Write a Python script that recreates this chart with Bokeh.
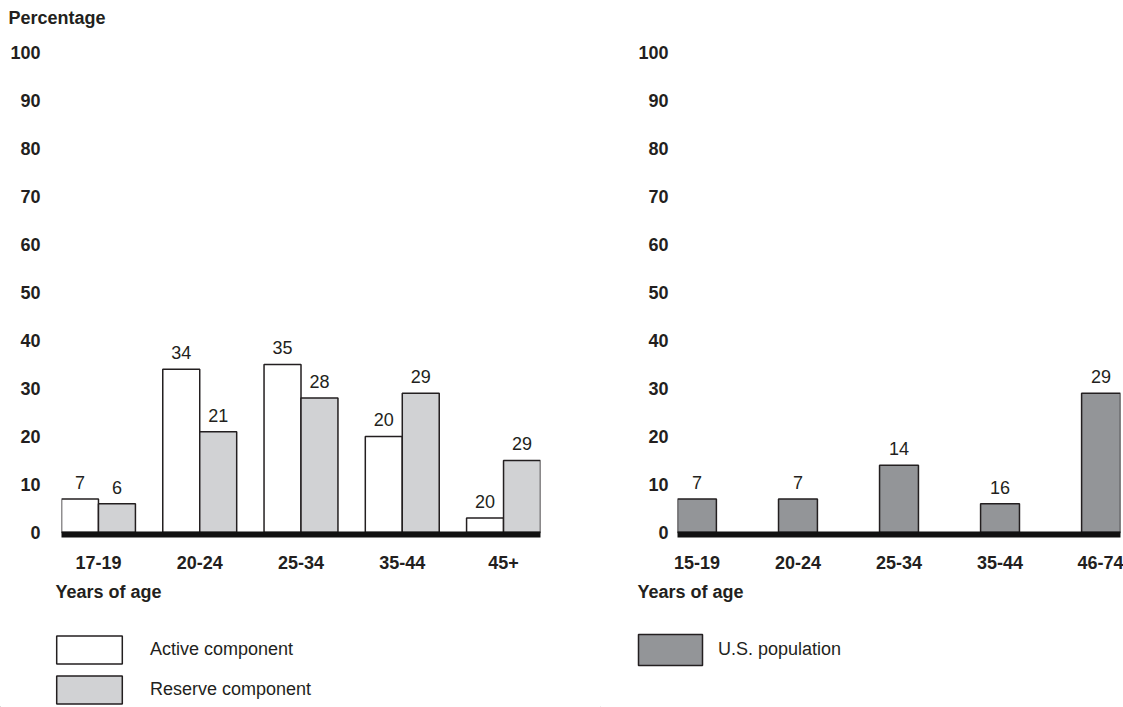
from bokeh.plotting import figure
from bokeh.models import FixedTicker, Title, Legend, LegendItem, ColumnDataSource, Range1d, Label
from bokeh.layouts import row, column
from bokeh.transform import dodge
from bokeh.core.properties import value
from bokeh.embed import file_html
from bokeh.resources import INLINE

# ---- data ----
left_cats = ["17-19", "20-24", "25-34", "35-44", "45+"]
active_vals = [7, 34, 35, 20, 3]
reserve_vals = [6, 21, 28, 29, 15]
active_labels = ["7", "34", "35", "20", "20"]
reserve_labels = ["6", "21", "28", "29", "29"]

right_cats = ["15-19", "20-24", "25-34", "35-44", "46-74"]
us_vals = [7, 7, 14, 6, 29]
us_labels = ["7", "7", "14", "16", "29"]

y_ticks = list(range(0, 101, 10))

FONT = "Liberation Sans"
INK = "#231f20"
ACTIVE = "#ffffff"
RESERVE = "#d1d2d4"
USPOP = "#939598"

HEADER_H = 30
W1, W2 = 600, 523


def blank_fig(width, height):
    p = figure(width=width, height=height, output_backend="svg", toolbar_location=None,
               x_axis_type=None, y_axis_type=None, min_border=0,
               x_range=Range1d(0, 1), y_range=Range1d(0, 1))
    p.outline_line_color = None
    p.grid.visible = False
    p.background_fill_color = "white"
    p.border_fill_color = "white"
    return p


def base_fig(frame_w, border_left, border_right, x_start, x_end, cats, standoff):
    p = figure(frame_width=frame_w, frame_height=482, output_backend="svg", toolbar_location=None,
               x_range=Range1d(x_start, x_end), y_range=Range1d(-0.42, 100),
               min_border_left=border_left, min_border_right=border_right,
               min_border_top=52 - HEADER_H, min_border_bottom=88)
    p.outline_line_color = None
    p.grid.visible = False
    p.background_fill_color = "white"
    p.border_fill_color = "white"
    # y axis
    ya = p.yaxis[0]
    ya.ticker = FixedTicker(ticks=y_ticks)
    ya.axis_line_color = None
    ya.major_tick_line_color = None
    ya.minor_tick_line_color = None
    ya.major_tick_out = 0
    ya.major_label_standoff = standoff
    ya.major_label_text_font = FONT
    ya.major_label_text_font_size = "18px"
    ya.major_label_text_font_style = "bold"
    ya.major_label_text_color = INK
    # x axis (thick baseline)
    xa = p.xaxis[0]
    xa.ticker = FixedTicker(ticks=list(range(len(cats))))
    xa.major_label_overrides = {i: c for i, c in enumerate(cats)}
    xa.axis_line_color = "#111111"
    xa.axis_line_width = 6
    xa.major_tick_line_color = None
    xa.minor_tick_line_color = None
    xa.major_tick_out = 0
    xa.major_tick_in = 0
    xa.major_label_standoff = 21
    xa.major_label_text_font = FONT
    xa.major_label_text_font_size = "18px"
    xa.major_label_text_font_style = "bold"
    xa.major_label_text_color = INK
    t = Title(text="Years of age", align="left", offset=0,
              text_font=FONT, text_font_size="18px", text_font_style="bold",
              text_color=INK, standoff=17)
    p.add_layout(t, "below")
    return p, t


def make_legend(items, gw, gh, spacing, standoff, loc):
    return Legend(items=items, orientation="vertical", glyph_width=gw, glyph_height=gh,
                  spacing=spacing, label_standoff=standoff, label_text_font=FONT,
                  label_text_font_size="18px", label_text_color=INK, padding=0, margin=0,
                  border_line_color=None, background_fill_alpha=0, location=loc)


# ---- header ----
header = blank_fig(W1 + W2, HEADER_H)
header.add_layout(Label(x=8, y=13, x_units="screen", y_units="screen", text="Percentage",
                        text_font=FONT, text_font_size="18px", text_font_style="bold",
                        text_color=INK, text_baseline="middle", text_align="left"))

# ---- left chart ----
bw = 0.365
src_l = ColumnDataSource(dict(x=list(range(len(left_cats))), active=active_vals, reserve=reserve_vals,
                              alab=active_labels, rlab=reserve_labels))
p1, t1 = base_fig(479, 61, 60, -bw, len(left_cats) - 1 + bw, left_cats, 21)
t1.offset = -6
p1.vbar(x=dodge("x", -bw / 2), top="active", bottom=0, width=bw, source=src_l,
        fill_color=ACTIVE, line_color=INK, line_width=1.5)
p1.vbar(x=dodge("x", bw / 2), top="reserve", bottom=0, width=bw, source=src_l,
        fill_color=RESERVE, line_color=INK, line_width=1.5)
p1.text(x=dodge("x", -bw / 2), y="active", text="alab", source=src_l, text_align="center",
        text_baseline="bottom", y_offset=-10, text_font=value(FONT), text_font_size="18px",
        text_color=INK)
p1.text(x=dodge("x", bw / 2), y="reserve", text="rlab", source=src_l, text_align="center",
        text_baseline="bottom", y_offset=-10, text_font=value(FONT), text_font_size="18px",
        text_color=INK)

# ---- right chart ----
bw2 = 0.385
src_r = ColumnDataSource(dict(x=list(range(len(right_cats))), us=us_vals, lab=us_labels))
p2, t2 = base_fig(443, 77, 3, -bw2 / 2, len(right_cats) - 1 + bw2 / 2, right_cats, 9)
t2.offset = -40
p2.vbar(x="x", top="us", bottom=0, width=bw2, source=src_r,
        fill_color=USPOP, line_color=INK, line_width=1.5)
p2.text(x="x", y="us", text="lab", source=src_r, text_align="center",
        text_baseline="bottom", y_offset=-10, text_font=value(FONT), text_font_size="18px",
        text_color=INK)

# ---- legends (swatch renderers lie outside the visible ranges) ----
LEG_H = 707 - HEADER_H - (52 - HEADER_H) - 482 - 88
off_src = ColumnDataSource(dict(x=[-5.0], top=[-5.0], bottom=[-6.0]))
l1 = blank_fig(W1, LEG_H)
sw_act = l1.vbar(x="x", top="top", bottom="bottom", width=0.1, source=off_src,
                 fill_color=ACTIVE, line_color=INK, line_width=1.5)
sw_res = l1.vbar(x="x", top="top", bottom="bottom", width=0.1, source=off_src,
                 fill_color=RESERVE, line_color=INK, line_width=1.5)
l1.add_layout(make_legend([LegendItem(label="Active component", renderers=[sw_act]),
                           LegendItem(label="Reserve component", renderers=[sw_res])],
                          82, 35, 5, 20, (48, 0)))

off_src2 = ColumnDataSource(dict(x=[-5.0], top=[-5.0], bottom=[-6.0]))
l2 = blank_fig(W2, LEG_H)
sw_us = l2.vbar(x="x", top="top", bottom="bottom", width=0.1, source=off_src2,
                fill_color=USPOP, line_color=INK, line_width=1.5)
l2.add_layout(make_legend([LegendItem(label="U.S. population", renderers=[sw_us])],
                          80, 39, 0, 8, (30, 38)))

layout = column(header, row(p1, p2), row(l1, l2))
open("out.html", "w").write(file_html(layout, INLINE))
